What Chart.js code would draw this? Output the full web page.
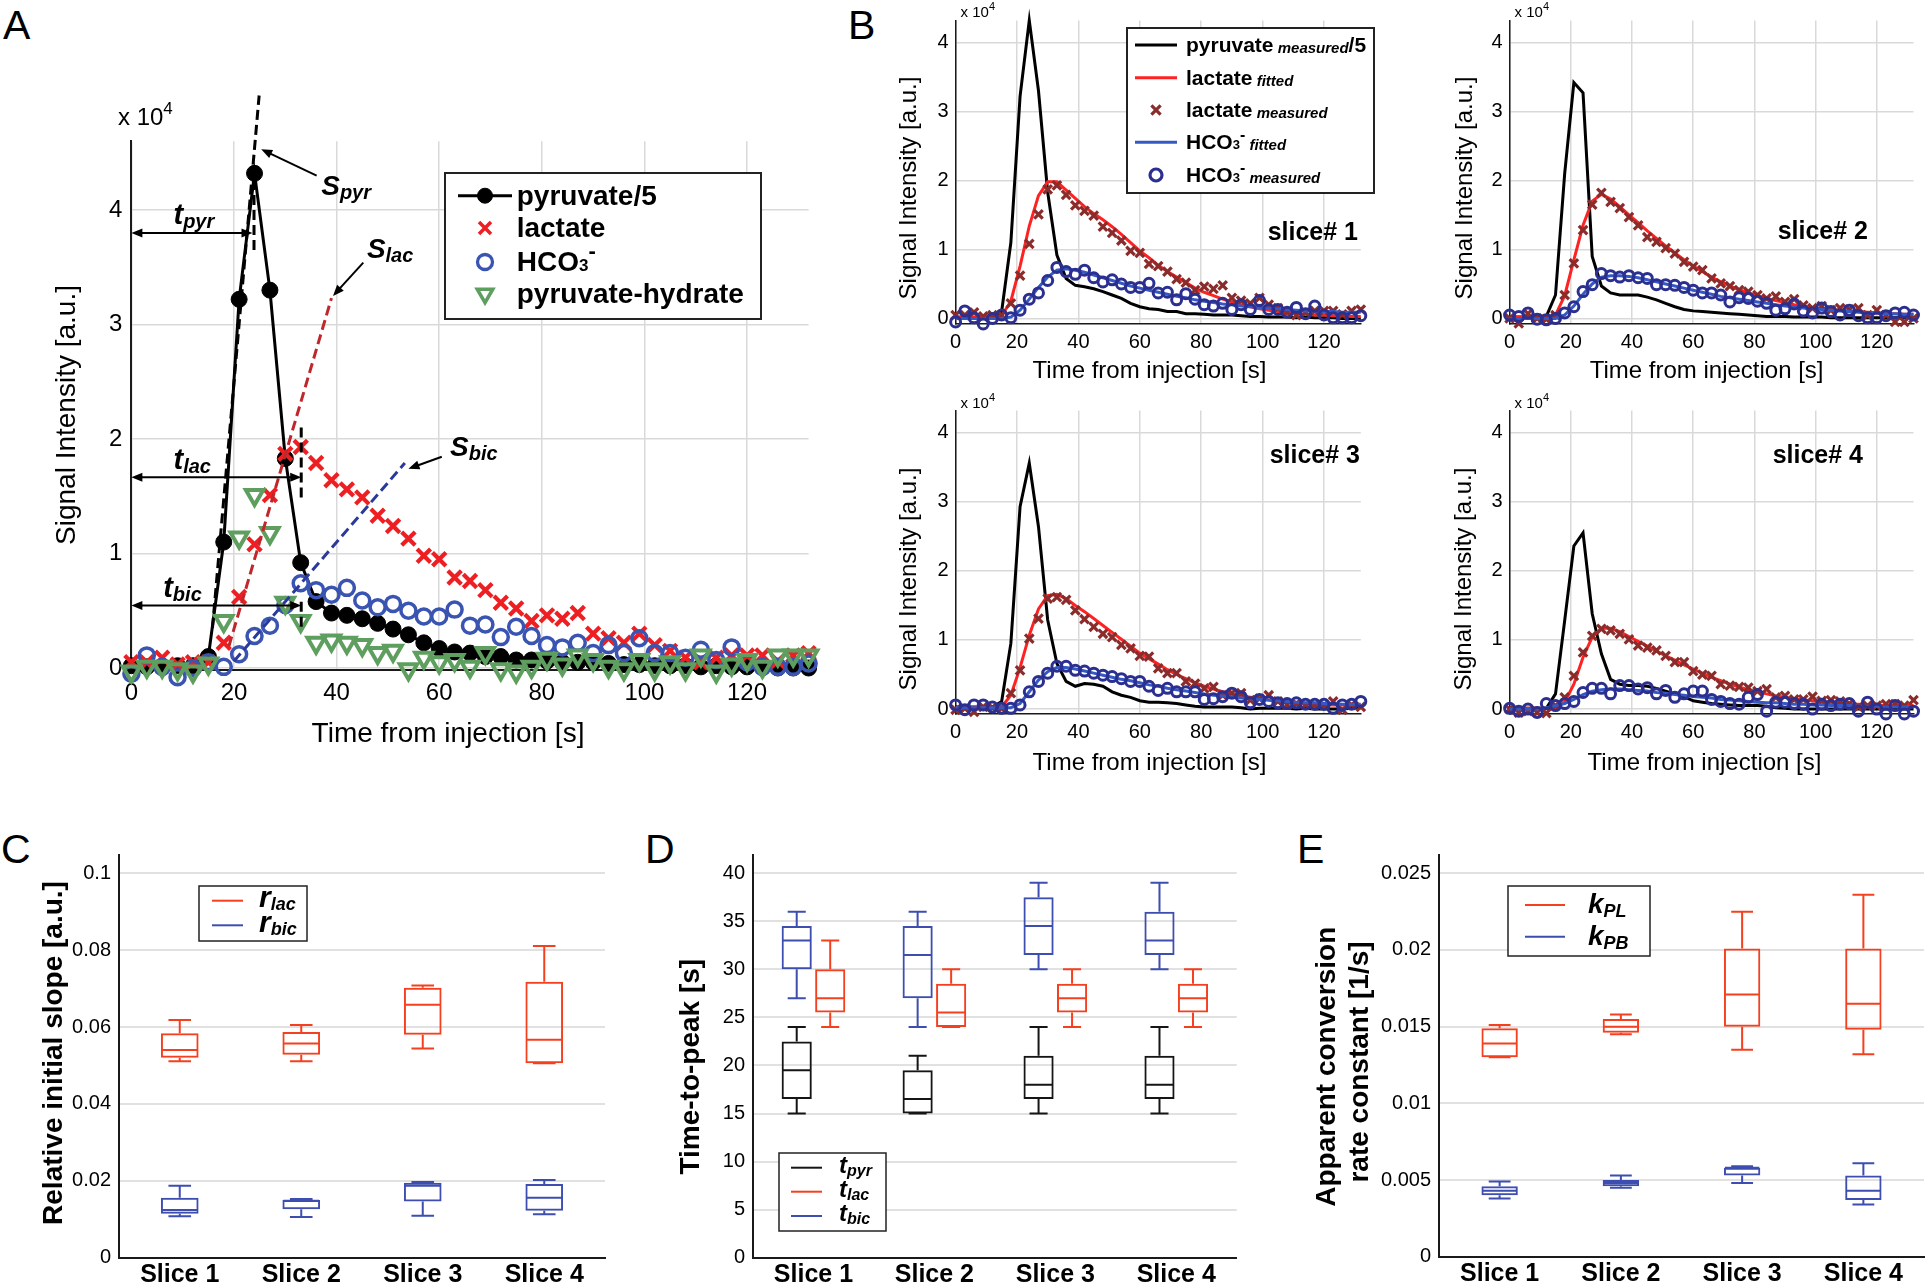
<!DOCTYPE html>
<html lang="en">
<head>
<meta charset="utf-8">
<title>Pyruvate, lactate and bicarbonate signal kinetics</title>
<script src="https://cdn.jsdelivr.net/npm/chart.js@4.4.1/dist/chart.umd.min.js"></script>
<style>
  html, body { margin: 0; padding: 0; background: #fff; }
  body { position: relative; width: 1926px; height: 1284px; overflow: hidden;
         font-family: "Liberation Sans", Arial, Helvetica, sans-serif; }
  canvas { position: absolute; }
  .tag { position: absolute; font-size: 41px; line-height: 1; color: #000; }
</style>
</head>
<body>
<div class="tag" style="left:3px;top:5px">A</div>
<div class="tag" style="left:848px;top:5px">B</div>
<div class="tag" style="left:1px;top:829px">C</div>
<div class="tag" style="left:645px;top:829px">D</div>
<div class="tag" style="left:1297px;top:829px">E</div>
<canvas id="cA"></canvas>
<canvas id="cB1"></canvas>
<canvas id="cB2"></canvas>
<canvas id="cB3"></canvas>
<canvas id="cB4"></canvas>
<canvas id="cC"></canvas>
<canvas id="cD"></canvas>
<canvas id="cE"></canvas>
<script>
// time axis (s) and ticks
const tSec = [0,3,6,9,12,15,18,21,24,27,30,33,36,39,42,45,48,51,54,57,60,63,66,69,72,75,78,81,84,87,90,93,96,99,102,105,108,111,114,117,120,123,126,129,132];
const xTicks = [0,20,40,60,80,100,120];
const sigTicks = [0,1,2,3,4];

// slice 1 measured signals, x10^4 a.u. (panel A and slice# 1)
const pyrS1 = [0.02,0.01,0.01,0.02,0.02,0.1,1.1,3.22,4.32,3.3,1.83,0.92,0.58,0.48,0.46,
  0.43,0.39,0.34,0.29,0.22,0.17,0.14,0.13,0.1,0.1,0.07,0.07,0.06,0.05,0.05,
  0.05,0.04,0.03,0.03,0.02,0.02,0.02,0.01,0.02,0.01,0.01,0.01,0,0,0];
const lacS1 = [0.05,0.05,0.09,0.03,0.05,0.05,0.22,0.62,1.08,1.51,1.87,1.93,1.79,1.64,1.56,
  1.49,1.33,1.24,1.13,0.98,0.95,0.79,0.76,0.68,0.57,0.52,0.41,0.46,0.43,0.48,
  0.3,0.26,0.22,0.3,0.2,0.15,0.09,0.05,0.09,0.11,0.11,0.11,0.06,0.11,0.13];
const bicS1 = [-0.05,0.11,0.01,-0.08,0,0.05,0.01,0.12,0.28,0.37,0.55,0.74,0.68,0.64,0.7,
  0.59,0.53,0.56,0.5,0.45,0.45,0.51,0.37,0.38,0.27,0.36,0.28,0.2,0.18,0.22,
  0.13,0.2,0.13,0.26,0.13,0.13,0.09,0.16,0.07,0.18,0.05,0.01,0.01,0.01,0.04];
const hydS1 = [-0.03,0.01,0.01,-0.01,-0.03,0.04,0.41,1.14,1.51,1.18,0.57,0.41,0.22,0.24,0.22,
  0.2,0.13,0.15,-0.01,0.09,0.05,0.07,0.01,0.13,-0.01,-0.03,0.01,0.08,0.03,0.11,
  0.07,0.01,-0.01,0.07,-0.01,0.05,-0.01,0.11,-0.03,0.03,0.07,0.01,0.11,0.11,0.11];
const lacFitS1 = [0.02,0.02,0.02,0.02,0.02,0.04,0.25,0.76,1.34,1.78,1.98,1.98,1.86,1.74,1.62,
  1.52,1.43,1.33,1.22,1.1,0.98,0.88,0.77,0.68,0.6,0.52,0.44,0.38,0.33,0.28,
  0.24,0.2,0.17,0.14,0.12,0.1,0.09,0.07,0.06,0.05,0.05,0.04,0.04,0.03,0.03];
const bicFitS1 = [0,0,0,0,0,0,0.02,0.12,0.28,0.45,0.6,0.7,0.72,0.7,0.67,
  0.63,0.59,0.55,0.51,0.47,0.44,0.41,0.38,0.35,0.32,0.3,0.27,0.25,0.23,0.21,
  0.2,0.18,0.17,0.16,0.15,0.14,0.13,0.12,0.11,0.11,0.1,0.1,0.09,0.09,0.09];

// slice# 2
const pyrS2 = [0.02,0.02,0.02,0.02,0.03,0.34,2.1,3.42,3.27,0.9,0.47,0.37,0.34,0.34,0.34,
  0.31,0.27,0.22,0.17,0.13,0.11,0.1,0.09,0.08,0.07,0.06,0.05,0.04,0.03,0.03,
  0.03,0.02,0.02,0.02,0.02,0.01,0.01,0.01,0.01,0.01,0.01,0.01,0.01,0.01,0.01];
const lacFitS2 = [0.02,0.02,0.02,0.02,0.02,0.05,0.33,0.85,1.35,1.7,1.8,1.73,1.62,1.5,1.39,
  1.27,1.16,1.05,0.95,0.85,0.76,0.68,0.6,0.53,0.47,0.42,0.37,0.33,0.29,0.26,
  0.23,0.2,0.18,0.16,0.14,0.13,0.12,0.11,0.1,0.09,0.08,0.07,0.07,0.06,0.06];
const lacMeasS2 = [0,-0.07,0.07,0,-0.01,0.05,0.34,0.8,1.28,1.65,1.82,1.69,1.6,1.47,1.35,
  1.18,1.11,1.02,0.94,0.82,0.75,0.7,0.58,0.51,0.47,0.41,0.39,0.34,0.29,0.32,
  0.24,0.28,0.19,0.15,0.18,0.12,0.15,0.13,0.15,0.05,0.12,0.05,-0.05,-0.05,0];
const bicFitS2 = [0,0,0,0,0,0,0.05,0.18,0.35,0.5,0.6,0.62,0.62,0.61,0.59,
  0.56,0.53,0.5,0.47,0.44,0.41,0.38,0.35,0.32,0.3,0.28,0.26,0.24,0.22,0.2,
  0.18,0.17,0.15,0.14,0.13,0.12,0.11,0.1,0.09,0.08,0.08,0.07,0.07,0.06,0.06];
const bicMeasS2 = [0.05,0.03,0.08,-0.01,-0.02,0,0.08,0.17,0.39,0.49,0.65,0.62,0.6,0.62,0.59,
  0.58,0.49,0.49,0.48,0.45,0.41,0.37,0.37,0.34,0.24,0.3,0.29,0.25,0.22,0.12,
  0.14,0.21,0.11,0.08,0.15,0.1,0.05,0.12,0.04,0.01,0.01,0.04,0.08,0.09,0.05];

// slice# 3
const pyrS3 = [0.03,0.03,0.03,0.03,0.03,0.11,0.95,2.93,3.56,2.64,1.29,0.66,0.4,0.33,0.37,
  0.36,0.33,0.25,0.2,0.17,0.12,0.1,0.1,0.09,0.08,0.06,0.04,0.03,0.03,0.03,
  0.03,0.02,0,0.01,0.01,0.01,0.01,0,0.01,0,0,0,0,0.01,0.02];
const lacFitS3 = [0.02,0.02,0.02,0.02,0.02,0.03,0.2,0.6,1.07,1.45,1.64,1.66,1.6,1.5,1.41,
  1.31,1.21,1.11,1.01,0.91,0.81,0.73,0.65,0.57,0.5,0.44,0.38,0.33,0.29,0.25,
  0.22,0.19,0.17,0.15,0.13,0.11,0.1,0.09,0.08,0.07,0.07,0.06,0.06,0.05,0.05];
const lacMeasS3 = [-0.01,0.01,-0.04,0.03,0.02,0.01,0.23,0.56,1.02,1.31,1.6,1.62,1.58,1.43,1.3,
  1.19,1.09,1.04,0.93,0.88,0.77,0.76,0.59,0.52,0.52,0.4,0.37,0.3,0.32,0.2,
  0.23,0.23,0.13,0.15,0.2,0.11,0.06,0.08,0.06,0.06,0.06,0.11,-0.01,0.06,0.03];
const bicFitS3 = [0.02,0.02,0.02,0.02,0.02,0.02,0.02,0.08,0.25,0.42,0.54,0.6,0.6,0.58,0.55,
  0.52,0.49,0.46,0.43,0.41,0.38,0.35,0.33,0.3,0.28,0.26,0.24,0.22,0.2,0.19,
  0.17,0.16,0.15,0.14,0.13,0.12,0.11,0.1,0.09,0.09,0.08,0.08,0.07,0.07,0.07];
const bicMeasS3 = [0.06,-0.01,0.06,0.06,0.03,0.01,0.01,0.06,0.25,0.4,0.52,0.62,0.62,0.56,0.55,
  0.52,0.49,0.47,0.44,0.4,0.4,0.33,0.27,0.3,0.25,0.25,0.25,0.14,0.15,0.18,
  0.23,0.18,0.09,0.14,0.11,0.09,0.08,0.09,0.07,0.07,0.07,0.01,0.06,0.07,0.11];

// slice# 4
const pyrS4 = [0.01,0.01,0.01,0.01,0.01,0.22,1.28,2.36,2.55,1.38,0.8,0.43,0.36,0.34,0.34,
  0.33,0.3,0.26,0.22,0.18,0.12,0.1,0.08,0.07,0.06,0.05,0.05,0.05,0.04,0.02,
  0.01,0,0,0,0,0,0,0,0,0,0,0,0,0,0];
const lacFitS4 = [0.01,0.01,0.01,0.01,0.01,0.01,0.1,0.36,0.75,1.04,1.17,1.17,1.12,1.05,0.98,
  0.91,0.84,0.77,0.71,0.64,0.58,0.52,0.46,0.41,0.36,0.32,0.28,0.25,0.22,0.19,
  0.17,0.15,0.13,0.12,0.1,0.09,0.08,0.07,0.07,0.06,0.06,0.05,0.05,0.05,0.05];
const lacMeasS4 = [0,-0.05,-0.03,-0.05,-0.06,0.05,0.17,0.48,0.82,1.06,1.16,1.14,1.09,1.01,0.92,
  0.89,0.85,0.77,0.68,0.68,0.55,0.5,0.48,0.36,0.34,0.32,0.31,0.26,0.29,0.17,
  0.19,0.14,0.14,0.18,0.12,0.13,0.11,0.08,0.03,0.05,0.05,0.07,0.07,0.05,0.13];
const bicFitS4 = [0,0,0,0,0.02,0.05,0.08,0.14,0.21,0.26,0.28,0.29,0.29,0.28,0.27,
  0.26,0.24,0.23,0.21,0.2,0.18,0.17,0.16,0.14,0.13,0.12,0.11,0.1,0.09,0.09,
  0.08,0.07,0.07,0.06,0.06,0.05,0.05,0.05,0.04,0.04,0.04,0.03,0.03,0.03,0.03];
const bicMeasS4 = [0.01,-0.03,0,-0.05,0.08,0.05,0.08,0.11,0.24,0.3,0.3,0.22,0.34,0.34,0.29,
  0.31,0.22,0.27,0.17,0.22,0.26,0.26,0.14,0.11,0.08,0.07,0.17,0.21,-0.03,0.1,
  0.1,0.08,0.07,0,0.07,0.05,0.07,0.08,-0.03,0.1,0,-0.07,0.05,-0.07,-0.03];

// panel A construction lines, in data units [s, x10^4 a.u.]
const slopePyr = [[15.8,0.35],[24.9,5.0]];
const slopeLac = [[19.0,0.19],[39.0,3.23]];
const slopeBic = [[20.0,0.06],[53.3,1.79]];
const peakTicks = [[[23.9,3.65],[23.9,4.42]],[[33.1,1.49],[33.1,2.12]],[[33.1,0.36],[33.1,0.62]]];
const tSpans = [[23.6,3.8],[33.1,1.665],[33.1,0.547]];
const tTags = [['pyr',8.2,3.88],['lac',8.2,1.74],['bic',6.2,0.62]];
const sTags = [['pyr',37.0,4.13],['lac',45.9,3.58],['bic',62.1,1.85]];
const sPointers = [[[36.1,4.3],[25.3,4.53]],[[45.2,3.54],[39.3,3.25]],[[60.5,1.845],[54.0,1.74]]];

// box plots: [min, q1, median, q3, max] per slice
const slices = ['Slice 1','Slice 2','Slice 3','Slice 4'];
const rLac = [[0.0511,0.052,0.054,0.0584,0.0618],[0.0511,0.0528,0.0557,0.0587,0.0605],[0.0544,0.058,0.0658,0.0702,0.0708],[0.0506,0.0506,0.0567,0.0718,0.0811]];
const rBic = [[0.0108,0.0114,0.0124,0.0156,0.0187],[0.0106,0.0126,0.0148,0.015,0.0153],[0.0109,0.0146,0.0187,0.0195,0.0197],[0.0113,0.0122,0.0156,0.0192,0.0202]];
const tPyr = [[15,16.5,19.5,22.5,24],[15,15,16.5,19.5,21],[15,16.5,18,21,24],[15,16.5,18,21,24]];
const tLac = [[24,25.5,27,30,33],[24,24,25.5,28.5,30],[24,25.5,27,28.5,30],[24,25.5,27,28.5,30]];
const tBic = [[27,30,33,34.5,36],[24,27,31.5,34.5,36],[30,31.5,34.5,37.5,39],[30,31.5,33,36,39]];
const kPL = [[0.013,0.013,0.0139,0.0149,0.0151],[0.0145,0.0146,0.015,0.0155,0.0158],[0.0135,0.015,0.0171,0.0201,0.0225],[0.0132,0.0148,0.0165,0.0201,0.0236]];
const kPB = [[0.0038,0.004,0.0043,0.0046,0.0049],[0.0045,0.0046,0.0048,0.005,0.0053],[0.0048,0.0053,0.0058,0.0058,0.0059],[0.0034,0.0037,0.0043,0.0053,0.0061]];
const ticksC = [0,0.02,0.04,0.06,0.08,0.1];
const ticksD = [0,5,10,15,20,25,30,35,40];
const ticksE = [0,0.005,0.01,0.015,0.02,0.025];

// ---------- styling & helpers ----------
const FF = '"Liberation Sans", Arial, Helvetica, sans-serif';
const fnt = (size, style) => (style ? style + ' ' : '') + size + 'px ' + FF;
Chart.defaults.font.family = FF;
Chart.defaults.color = '#000';
const col = {red:'#ee1f23', blue:'#3a54b2', green:'#5e9e5e', tanRed:'#c0272d', tanBlue:'#2a3a9a',
  fitRed:'#ff2222', fitBlue:'#3559c4', darkRed:'#8a2c2c', navy:'#2b2f8f',
  boxRed:'#f5401f', boxBlue:'#3d4db0', boxBlack:'#151515', grid:'#d9d9d9', grid2:'#e1e1e1', axis:'#1a1a1a'};

function setup(id, box) {
  const c = document.getElementById(id);
  c.style.left = box[0] + 'px'; c.style.top = box[1] + 'px';
  c.width = box[2]; c.height = box[3];
  return c;
}
function frame(box, area) {
  return {padding: {left: 0, top: area[1] - box[1], right: box[0] + box[2] - area[2], bottom: 0},
          yW: area[0] - box[0], xH: box[1] + box[3] - area[3]};
}
const fixedTicks = list => scale => { scale.ticks = list.map(v => ({value: v})); };
const off = chart => [chart.canvas.offsetLeft, chart.canvas.offsetTop];
const xy = ys => tSec.map((t, i) => ({x: t, y: ys[i]}));
const seg = pts => pts.map(p => ({x: p[0], y: p[1]}));

function rich(ctx, parts, x, y, align) {
  ctx.save(); ctx.fillStyle = '#000'; ctx.textBaseline = 'alphabetic'; ctx.textAlign = 'left';
  let w = 0;
  parts.forEach(p => { ctx.font = fnt(p[1], p[2]); w += ctx.measureText(p[0]).width; });
  let cx = align === 'right' ? x - w : align === 'center' ? x - w / 2 : x;
  parts.forEach(p => { ctx.font = fnt(p[1], p[2]); ctx.fillText(p[0], cx, y + (p[3] || 0)); cx += ctx.measureText(p[0]).width; });
  ctx.restore();
}
function vText(ctx, lines, font, xs, cy) {
  lines.forEach((t, i) => {
    ctx.save(); ctx.translate(xs[i], cy[i]); ctx.rotate(-Math.PI / 2);
    ctx.font = font; ctx.fillStyle = '#000'; ctx.textAlign = 'center'; ctx.textBaseline = 'middle';
    ctx.fillText(t, 0, 0); ctx.restore();
  });
}
function hText(ctx, text, font, cx, base) {
  ctx.save(); ctx.font = font; ctx.fillStyle = '#000'; ctx.textAlign = 'center'; ctx.textBaseline = 'alphabetic';
  ctx.fillText(text, cx, base); ctx.restore();
}
function frameBox(ctx, x, y, w, h, lw) {
  ctx.save(); ctx.fillStyle = '#fff'; ctx.fillRect(x, y, w, h);
  ctx.strokeStyle = '#222'; ctx.lineWidth = lw; ctx.strokeRect(x, y, w, h); ctx.restore();
}
function stroke(ctx, x0, x1, y, color, lw) {
  ctx.save(); ctx.strokeStyle = color; ctx.lineWidth = lw; ctx.beginPath();
  ctx.moveTo(x0, y); ctx.lineTo(x1, y); ctx.stroke(); ctx.restore();
}
function mark(ctx, kind, x, y, r, color, fill, lw) {
  ctx.save(); ctx.strokeStyle = color; ctx.lineWidth = lw; ctx.beginPath();
  if (kind === 'circle') ctx.arc(x, y, r, 0, Math.PI * 2);
  else if (kind === 'crossRot') {
    const d = r * Math.SQRT1_2;
    ctx.moveTo(x - d, y - d); ctx.lineTo(x + d, y + d); ctx.moveTo(x + d, y - d); ctx.lineTo(x - d, y + d);
  } else {
    const a = r * Math.cos(Math.PI / 6);
    ctx.moveTo(x, y + r); ctx.lineTo(x - a, y - r / 2); ctx.lineTo(x + a, y - r / 2); ctx.closePath();
  }
  if (fill) { ctx.fillStyle = fill; ctx.fill(); }
  ctx.stroke(); ctx.restore();
}
function head(ctx, x, y, ang) {
  const L = 11, H = 4.5, c = Math.cos(ang), s = Math.sin(ang);
  ctx.beginPath(); ctx.moveTo(x, y);
  ctx.lineTo(x - L * c + H * s, y - L * s - H * c);
  ctx.lineTo(x - L * c - H * s, y - L * s + H * c);
  ctx.closePath(); ctx.fill();
}
const lineSet = (ys, color, w, order) => ({data: xy(ys), showLine: true, borderColor: color, borderWidth: w, pointRadius: 0, order, clip: false});
const markSet = (ys, style, color, fill, r, w, order, rot) => ({data: xy(ys), showLine: false, pointStyle: style,
  pointRadius: r, pointRotation: rot || 0, pointBorderColor: color, pointBackgroundColor: fill, pointBorderWidth: w, order, clip: false});
const dashSet = (pts, color) => ({data: seg(pts), showLine: true, borderColor: color, borderWidth: 3, borderDash: [10, 5], pointRadius: 0, order: 0, clip: false});

function signalChart(id, box, area, sets, o) {
  const fr = frame(box, area);
  const axis = (min, max, ticks, fit, pad) => ({
    type: 'linear', min, max, afterBuildTicks: fixedTicks(ticks), afterFit: fit,
    ticks: {font: {size: o.tick}, padding: pad, color: '#000', maxRotation: 0, autoSkip: false, callback: v => String(v)},
    grid: {color: col.grid, lineWidth: 1.5, drawTicks: false},
    border: {color: col.axis, width: o.axisW}
  });
  return new Chart(setup(id, box), {
    type: 'scatter',
    data: {datasets: sets},
    options: {
      responsive: false, animation: false, events: [],
      layout: {padding: fr.padding},
      plugins: {legend: {display: false}, tooltip: {enabled: false}},
      scales: {
        x: axis(0, 132, xTicks, s => { s.height = fr.xH; }, o.xPad),
        y: axis(o.ymin, o.ymax, sigTicks, s => { s.width = fr.yW; }, o.yPad)
      }
    },
    plugins: [{id: 'deco', afterDraw: o.deco}]
  });
}

// ---------- panel A ----------
function decoA(chart) {
  const ctx = chart.ctx, [ox, oy] = off(chart), X = chart.scales.x, Y = chart.scales.y;
  const P = (x, y) => [X.getPixelForValue(x), Y.getPixelForValue(y)];
  rich(ctx, [['x 10', 24], ['4', 17, '', -11]], 118 - ox, 125 - oy);
  vText(ctx, ['Signal Intensity [a.u.]'], fnt(28), [67.5 - ox], [415 - oy]);
  hText(ctx, 'Time from injection [s]', fnt(28), 448 - ox, 741.5 - oy);
  ctx.save(); ctx.strokeStyle = '#000'; ctx.fillStyle = '#000'; ctx.lineWidth = 2;
  tSpans.forEach(([xe, y]) => {
    const [a, b] = P(0, y), [c] = P(xe, y);
    ctx.beginPath(); ctx.moveTo(a + 4, b); ctx.lineTo(c - 4, b); ctx.stroke();
    head(ctx, a, b, Math.PI); head(ctx, c, b, 0);
  });
  sPointers.forEach(([p0, p1]) => {
    const [a, b] = P(p0[0], p0[1]), [c, d] = P(p1[0], p1[1]);
    const ang = Math.atan2(d - b, c - a);
    ctx.beginPath(); ctx.moveTo(a, b); ctx.lineTo(c - 6 * Math.cos(ang), d - 6 * Math.sin(ang)); ctx.stroke();
    head(ctx, c, d, ang);
  });
  ctx.restore();
  tTags.forEach(([s, x, y]) => { const [a, b] = P(x, y); rich(ctx, [['t', 29, 'bold italic'], [s, 20, 'bold italic', 4]], a, b); });
  sTags.forEach(([s, x, y]) => { const [a, b] = P(x, y); rich(ctx, [['S', 28, 'bold italic'], [s, 20, 'bold italic', 4]], a, b); });
  // legend
  frameBox(ctx, 445 - ox, 173 - oy, 316, 146, 2);
  const rows = [195.7, 228, 262, 293.7].map(v => v - oy), mx = 485 - ox, tx = 516.7 - ox;
  stroke(ctx, 458 - ox, 512 - ox, rows[0], '#000', 3);
  mark(ctx, 'circle', mx, rows[0], 7.5, '#000', '#000', 1);
  rich(ctx, [['pyruvate/5', 28, 'bold']], tx, rows[0] + 9);
  mark(ctx, 'crossRot', mx, rows[1], 8.5, col.red, null, 3.5);
  rich(ctx, [['lactate', 28, 'bold']], tx, rows[1] + 9);
  mark(ctx, 'circle', mx, rows[2], 7.5, col.blue, null, 3.3);
  rich(ctx, [['HCO', 28, 'bold'], ['3', 17, 'bold'], ['-', 22, 'bold', -13]], tx, rows[2] + 9);
  mark(ctx, 'tri', mx, rows[3], 9, col.green, null, 3.5);
  rich(ctx, [['pyruvate-hydrate', 28, 'bold']], tx, rows[3] + 9);
}
signalChart('cA', [0, 80, 830, 680], [131.4, 141.3, 808.6, 670.3], [
  {...lineSet(pyrS1, '#000', 3, 4), pointRadius: 8, pointStyle: 'circle', pointBackgroundColor: '#000', pointBorderColor: '#000', pointBorderWidth: 1},
  markSet(lacS1, 'crossRot', col.red, col.red, 9.5, 4.2, 3),
  markSet(bicS1, 'circle', col.blue, 'rgba(0,0,0,0)', 7.5, 3.5, 2),
  markSet(hydS1, 'triangle', col.green, 'rgba(0,0,0,0)', 10, 4, 1, 180),
  dashSet(slopePyr, '#000'), dashSet(slopeLac, col.tanRed), dashSet(slopeBic, col.tanBlue),
  ...peakTicks.map(p => dashSet(p, '#000'))
], {tick: 24, xPad: 9, yPad: 9, axisW: 2, ymin: -0.02, ymax: 4.6, deco: decoA});

// ---------- panel B ----------
const sliceSeries = [
  [pyrS1, lacFitS1, lacS1, bicFitS1, bicS1],
  [pyrS2, lacFitS2, lacMeasS2, bicFitS2, bicMeasS2],
  [pyrS3, lacFitS3, lacMeasS3, bicFitS3, bicMeasS3],
  [pyrS4, lacFitS4, lacMeasS4, bicFitS4, bicMeasS4]
];
const sliceLayout = [
  {id: 'cB1', box: [880, 0, 520, 390], area: [955.6, 20.4, 1360.8, 323.3], yT: [909.8, 188], xT: [1149.5, 378.4], tag: [1358, 240]},
  {id: 'cB2', box: [1440, 0, 486, 390], area: [1509.6, 20.4, 1913.5, 323.3], yT: [1465, 188], xT: [1706.6, 378.4], tag: [1868, 239]},
  {id: 'cB3', box: [880, 390, 520, 400], area: [955.6, 410.6, 1360.8, 713.9], yT: [909.8, 579], xT: [1149.5, 770], tag: [1360, 463]},
  {id: 'cB4', box: [1440, 390, 486, 400], area: [1509.6, 410.6, 1913.5, 713.9], yT: [1464, 579], xT: [1704.5, 770], tag: [1863, 463]}
];
function legendB(ctx, ox, oy) {
  frameBox(ctx, 1127 - ox, 28 - oy, 247, 165, 2);
  const rows = [45, 77.7, 110, 142.3, 175].map(v => v - oy), x0 = 1135 - ox, x1 = 1177 - ox, mx = 1156 - ox, tx = 1186 - ox;
  const hco = [['HCO', 21, 'bold'], ['3', 13, 'bold'], ['-', 16, 'bold', -9]];
  stroke(ctx, x0, x1, rows[0], '#000', 3);
  rich(ctx, [['pyruvate', 21, 'bold'], [' measured', 15, 'bold italic', 1], ['/5', 21, 'bold']], tx, rows[0] + 7);
  stroke(ctx, x0, x1, rows[1], col.fitRed, 3);
  rich(ctx, [['lactate', 21, 'bold'], [' fitted', 15, 'bold italic', 1]], tx, rows[1] + 7);
  mark(ctx, 'crossRot', mx, rows[2], 6.5, col.darkRed, null, 3.2);
  rich(ctx, [['lactate', 21, 'bold'], [' measured', 15, 'bold italic', 1]], tx, rows[2] + 7);
  stroke(ctx, x0, x1, rows[3], col.fitBlue, 3);
  rich(ctx, hco.concat([[' fitted', 15, 'bold italic', 1]]), tx, rows[3] + 7);
  mark(ctx, 'circle', mx, rows[4], 6, col.navy, null, 3.2);
  rich(ctx, hco.concat([[' measured', 15, 'bold italic', 1]]), tx, rows[4] + 7);
}
sliceLayout.forEach((L, i) => {
  const [pyr, lacFit, lacMeas, bicFit, bicMeas] = sliceSeries[i];
  signalChart(L.id, L.box, L.area, [
    lineSet(pyr, '#000', 3, 5),
    lineSet(lacFit, col.fitRed, 3, 4),
    markSet(lacMeas, 'crossRot', col.darkRed, col.darkRed, 6, 3.2, 3),
    lineSet(bicFit, col.fitBlue, 3, 2),
    markSet(bicMeas, 'circle', col.navy, 'rgba(0,0,0,0)', 5, 3, 1)
  ], {tick: 20, xPad: 7, yPad: 7, axisW: 1.5, ymin: -0.07, ymax: 4.32, deco: chart => {
    const ctx = chart.ctx, [ox, oy] = off(chart), a = chart.chartArea;
    rich(ctx, [['x 10', 15], ['4', 11, '', -7]], a.left + 5, a.top - 3);
    vText(ctx, ['Signal Intensity [a.u.]'], fnt(24), [L.yT[0] - ox], [L.yT[1] - oy]);
    hText(ctx, 'Time from injection [s]', fnt(24), L.xT[0] - ox, L.xT[1] - oy);
    rich(ctx, [['slice# ' + (i + 1), 25, 'bold']], L.tag[0] - ox, L.tag[1] - oy, 'right');
    if (i === 0) legendB(ctx, ox, oy);
  }});
});

// ---------- panels C, D, E ----------
const whiskers = {
  id: 'whiskers',
  afterDatasetsDraw(chart) {
    const ctx = chart.ctx, Y = chart.scales.y, py = v => Y.getPixelForValue(v);
    chart.data.datasets.forEach((ds, i) => {
      chart.getDatasetMeta(i).data.forEach((bar, j) => {
        const [lo, q1, med, q3, hi] = ds.stats[j];
        const {x, width} = bar.getProps(['x', 'width'], true);
        const h = width / 2, c = width * 0.3;
        ctx.save(); ctx.strokeStyle = ds.borderColor; ctx.lineWidth = 2; ctx.beginPath();
        ctx.moveTo(x - h + 1, py(med)); ctx.lineTo(x + h - 1, py(med));
        ctx.moveTo(x, py(q3)); ctx.lineTo(x, py(hi));
        ctx.moveTo(x - c, py(hi)); ctx.lineTo(x + c, py(hi));
        ctx.moveTo(x, py(q1)); ctx.lineTo(x, py(lo));
        ctx.moveTo(x - c, py(lo)); ctx.lineTo(x + c, py(lo));
        ctx.stroke(); ctx.restore();
      });
    });
  }
};
function boxChart(id, box, area, sets, yMax, ticks, pct, deco) {
  const fr = frame(box, area);
  return new Chart(setup(id, box), {
    type: 'bar',
    data: {labels: slices, datasets: sets.map(s => ({
      data: s.stats.map(b => [b[1], b[3]]), stats: s.stats, stack: s.stack,
      backgroundColor: 'rgba(0,0,0,0)', borderColor: s.color, borderWidth: 2, borderSkipped: false,
      categoryPercentage: pct[0], barPercentage: pct[1]
    }))},
    options: {
      responsive: false, animation: false, events: [],
      layout: {padding: fr.padding},
      plugins: {legend: {display: false}, tooltip: {enabled: false}},
      scales: {
        x: {type: 'category', stacked: true, afterFit: s => { s.height = fr.xH; },
            ticks: {font: {size: 25, weight: 'bold'}, padding: 2, color: '#000', maxRotation: 0, autoSkip: false},
            grid: {display: false, drawTicks: false}, border: {color: col.axis, width: 2}},
        y: {type: 'linear', stacked: false, min: 0, max: yMax, afterBuildTicks: fixedTicks(ticks), afterFit: s => { s.width = fr.yW; },
            ticks: {font: {size: 20}, padding: 8, color: '#000', callback: v => String(v)},
            grid: {color: col.grid2, lineWidth: 2, drawTicks: false}, border: {color: col.axis, width: 2}}
      }
    },
    plugins: [whiskers, {id: 'deco', afterDraw: deco}]
  });
}
function keyRows(ctx, ox, oy, rows, x0, x1, tx, main, size, subSize, lift, subDy) {
  rows.forEach(([y, color, sub]) => {
    stroke(ctx, x0 - ox, x1 - ox, y - oy, color, 2);
    rich(ctx, [[main, size, 'bold italic'], [sub, subSize, 'bold italic', subDy]], tx - ox, y - oy + lift);
  });
}
boxChart('cC', [0, 820, 640, 464], [119, 855.2, 605, 1257.7],
  [{stats: rLac, color: col.boxRed, stack: 's'}, {stats: rBic, color: col.boxBlue, stack: 's'}],
  0.1047, ticksC, [1, 0.31], chart => {
    const ctx = chart.ctx, [ox, oy] = off(chart);
    vText(ctx, ['Relative initial slope [a.u.]'], fnt(28, 'bold'), [54 - ox], [1053 - oy]);
    frameBox(ctx, 199 - ox, 886 - oy, 108, 55, 1.5);
    keyRows(ctx, ox, oy, [[900.7, col.boxRed, 'lac'], [925.3, col.boxBlue, 'bic']], 212, 243, 259, 'r', 30, 18, 6.6, 3);
  });
boxChart('cD', [640, 820, 640, 464], [753, 855, 1236.7, 1257.7],
  [{stats: tPyr, color: col.boxBlack, stack: 'L'}, {stats: tLac, color: col.boxRed, stack: 'R'}, {stats: tBic, color: col.boxBlue, stack: 'L'}],
  41.9, ticksD, [0.554, 0.9], chart => {
    const ctx = chart.ctx, [ox, oy] = off(chart);
    vText(ctx, ['Time-to-peak [s]'], fnt(28, 'bold'), [691 - ox], [1066.7 - oy]);
    frameBox(ctx, 779 - ox, 1153 - oy, 107, 78, 1.5);
    keyRows(ctx, ox, oy, [[1167.7, col.boxBlack, 'pyr'], [1191.7, col.boxRed, 'lac'], [1216, col.boxBlue, 'bic']], 791, 822, 839, 't', 24, 16, 5, 3);
  });
boxChart('cE', [1280, 820, 646, 464], [1439, 855.2, 1924, 1256.7],
  [{stats: kPL, color: col.boxRed, stack: 's'}, {stats: kPB, color: col.boxBlue, stack: 's'}],
  0.02618, ticksE, [1, 0.3], chart => {
    const ctx = chart.ctx, [ox, oy] = off(chart);
    vText(ctx, ['Apparent conversion', 'rate constant [1/s]'], fnt(28, 'bold'), [1327 - ox, 1360 - ox], [1066.7 - oy, 1062 - oy]);
    frameBox(ctx, 1508 - ox, 886 - oy, 142, 70, 1.5);
    keyRows(ctx, ox, oy, [[905, col.boxRed, 'PL'], [936.7, col.boxBlue, 'PB']], 1525, 1565, 1588, 'k', 28, 18, 8, 4);
  });
</script>
</body>
</html>
